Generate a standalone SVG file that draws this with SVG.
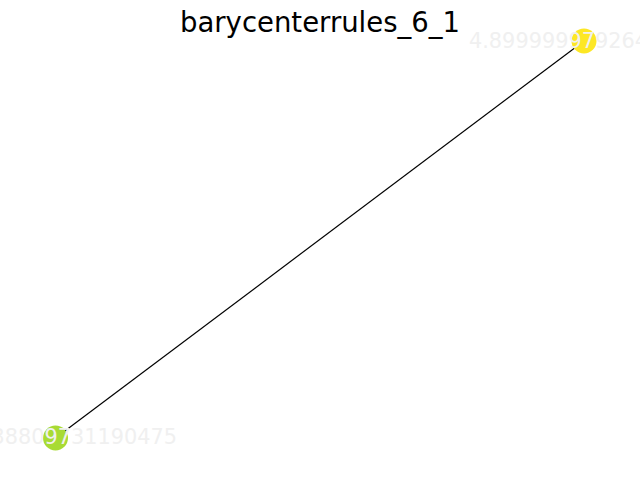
<svg xmlns="http://www.w3.org/2000/svg" width="640" height="480" viewBox="0 0 640 480">
<style>
.node{stroke:none}
.lbl{font-family:"DejaVu Sans",sans-serif;font-size:20.83px;fill:#f0f0f0}
.title{font-family:"DejaVu Sans",sans-serif;font-size:27.5px;fill:#000;text-anchor:middle}
.edge{stroke:#000;stroke-width:1.2;fill:none}
</style>
<rect width="640" height="480" fill="#fff"/>
<g id="connectors">
<line class="edge" x1="55.5" y1="438" x2="584" y2="41"/>
</g>
<g id="node-top">
<circle class="node" cx="584" cy="41" r="12.5" fill="#fde725"/>
<text class="lbl" x="469" y="47.5">4.8999999792647545</text>
</g>
<g id="node-bottom">
<circle class="node" cx="55.5" cy="438" r="12.5" fill="#a8db34"/>
<text class="lbl" x="177" y="444" text-anchor="end">4.6638809731190475</text>
</g>
<text class="title" x="320" y="32">barycenterrules_6_1</text>
</svg>
